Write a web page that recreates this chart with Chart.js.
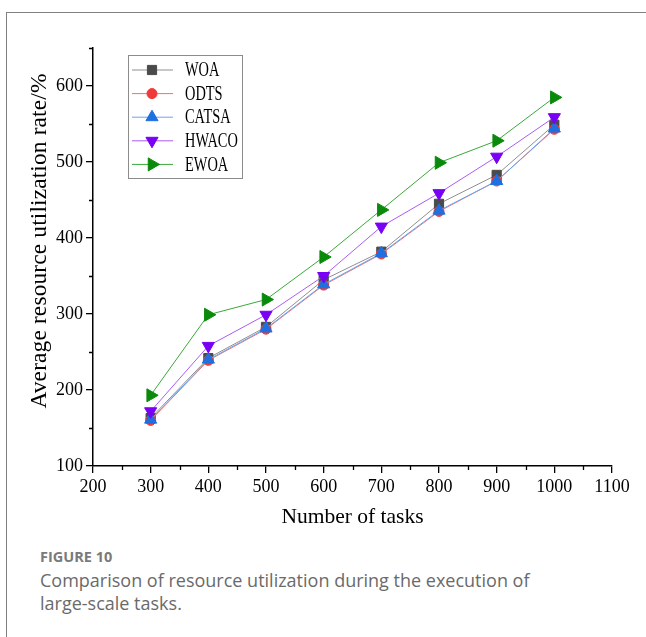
<!DOCTYPE html>
<html>
<head>
<meta charset="utf-8">
<script src="https://cdn.jsdelivr.net/npm/chart.js@4"></script>
<style>
  body { margin: 0; background: #fff; width: 646px; height: 637px; overflow: hidden; position: relative; }
  .frame { position: absolute; left: 6px; top: 12px; width: 700px; height: 700px; border-left: 1.5px solid #808080; border-top: 1.5px solid #808080; }
  #wrap { position: absolute; left: 0; top: 0; width: 646px; height: 540px; }
  .fig { position: absolute; left: 40px; top: 547px; font-family: "Open Sans", sans-serif; font-size: 14.5px; font-weight: 700; color: #7a7a7a; }
  .cap { position: absolute; left: 40px; top: 569px; width: 600px; font-family: "Open Sans", sans-serif; font-size: 18px; line-height: 23px; color: #6a6a6a; }
</style>
</head>
<body>
<div class="frame"></div>
<div id="wrap"><canvas id="chart" width="646" height="540"></canvas></div>
<div class="fig">FIGURE 10</div>
<div class="cap">Comparison of resource utilization during the execution of<br>large-scale tasks.</div>
<script>
const tasks = [300, 400, 500, 600, 700, 800, 900, 1000];
const woa   = [163, 242, 283, 345, 382, 445, 483, 549];
const odts  = [160, 239, 280, 338, 379, 435, 475, 543];
const catsa = [161, 240, 281, 339, 380, 436, 475, 544];
const hwaco = [172, 258, 299, 350, 415, 459, 507, 559];
const ewoa  = [193, 299, 319, 375, 437, 499, 528, 585];
const seriesNames = ['WOA', 'ODTS', 'CATSA', 'HWACO', 'EWOA'];
const yTitle = 'Average resource utilization rate/%';

const serif = '"Liberation Serif", "Times New Roman", serif';

function pts(vals) {
  return tasks.map((t, i) => ({ x: t, y: vals[i] }));
}

// minor ticks at the 50s, y title, and a legend inside the plot
const extras = {
  id: 'extras',
  afterDraw(chart) {
    const ctx = chart.ctx;
    const xs = chart.scales.x, ys = chart.scales.y;
    ctx.save();
    ctx.strokeStyle = '#000';
    ctx.lineWidth = 1.3;
    ctx.beginPath();
    for (let v = 250; v < 1100; v += 100) {
      const px = Math.round(xs.getPixelForValue(v)) + 0.5;
      ctx.moveTo(px, ys.bottom);
      ctx.lineTo(px, ys.bottom + 4);
    }
    for (let v = 150; v <= 650; v += 100) {
      const py = Math.round(ys.getPixelForValue(v)) + 0.5;
      ctx.moveTo(xs.left, py);
      ctx.lineTo(xs.left - 4, py);
    }
    ctx.stroke();

    // y title
    ctx.save();
    ctx.translate(40, 241);
    ctx.rotate(-Math.PI / 2);
    ctx.font = '23.5px ' + serif;
    ctx.letterSpacing = '0.1px';
    ctx.textAlign = 'center';
    ctx.textBaseline = 'middle';
    ctx.fillStyle = '#000';
    ctx.fillText(yTitle, 0, 0);
    ctx.restore();

    // legend box
    const bx = 128.5, by = 55.5, bw = 114, bh = 123;
    ctx.strokeStyle = '#8c8c8c';
    ctx.lineWidth = 1;
    ctx.fillStyle = '#fff';
    ctx.fillRect(bx, by, bw, bh);
    ctx.strokeRect(bx, by, bw, bh);
    chart.data.datasets.forEach((ds, i) => {
      const y = 70 + i * 23.6;
      ctx.strokeStyle = ds.borderColor;
      ctx.lineWidth = 1;
      ctx.beginPath();
      ctx.moveTo(132, y);
      ctx.lineTo(173, y);
      ctx.stroke();
      ctx.fillStyle = ds.pointBackgroundColor;
      ctx.strokeStyle = ds.pointBorderColor;
      Chart.helpers.drawPoint(ctx, {
        pointStyle: ds.pointStyle, rotation: ds.pointRotation || 0,
        radius: ds.pointRadius, borderWidth: 1
      }, 152, y);
      // narrow lettering like the original
      ctx.save();
      ctx.translate(185, y + 1);
      ctx.scale(0.72, 1);
      ctx.font = '20px ' + serif;
      ctx.textBaseline = 'middle';
      ctx.fillStyle = '#000';
      ctx.fillText(ds.label, 0, 0);
      ctx.restore();
    });
    ctx.restore();
  }
};

function ds(label, vals, line, mark, style, radius, rot, order) {
  return {
    label: label,
    data: pts(vals),
    borderColor: line,
    borderWidth: 1,
    pointBackgroundColor: mark,
    pointBorderColor: mark,
    pointBorderWidth: 1,
    pointStyle: style,
    pointRadius: radius,
    pointRotation: rot,
    order: order,
    tension: 0
  };
}

new Chart(document.getElementById('chart'), {
  type: 'line',
  data: {
    datasets: [
      ds(seriesNames[0], woa,   '#8f8f8f', '#4a4a4a', 'rect', 6.5, 0, 5),
      ds(seriesNames[1], odts,  '#f07070', '#f03a3a', 'circle', 5, 0, 4),
      ds(seriesNames[2], catsa, '#6aa4ee', '#1e6fe0', 'triangle', 7, 0, 3),
      ds(seriesNames[3], hwaco, '#a85cf8', '#7800f5', 'triangle', 7, 180, 2),
      ds(seriesNames[4], ewoa,  '#3aa83a', '#0a8a0a', 'triangle', 7.5, 90, 1)
    ]
  },
  options: {
    responsive: false,
    animation: false,
    devicePixelRatio: 1,
    layout: { padding: { left: 0, top: 48, right: 34, bottom: 10 } },
    plugins: { legend: { display: false }, tooltip: { enabled: false } },
    scales: {
      x: {
        type: 'linear', min: 200, max: 1100,
        afterFit(s) { s.height = 64; },
        border: { display: true, color: '#000', width: 1.5 },
        grid: { drawOnChartArea: false, tickLength: 7, color: '#000', lineWidth: 1.3 },
        ticks: { stepSize: 100, color: '#000', padding: 3, maxRotation: 0, callback: v => String(v), font: { family: serif, size: 18 } },
        title: { display: true, text: 'Number of tasks', color: '#000', padding: { top: 4, bottom: 0 }, font: { family: serif, size: 21.5 } }
      },
      y: {
        type: 'linear', min: 100, max: 650,
        afterFit(s) { s.width = 93; },
        border: { display: true, color: '#000', width: 1.5 },
        grid: { drawOnChartArea: false, tickLength: 7, color: '#000', lineWidth: 1.3 },
        ticks: { stepSize: 100, includeBounds: false, color: '#000', padding: 3, callback: v => String(v), font: { family: serif, size: 18 } },
        title: { display: false }
      }
    }
  },
  plugins: [extras]
});
</script>
</body>
</html>
